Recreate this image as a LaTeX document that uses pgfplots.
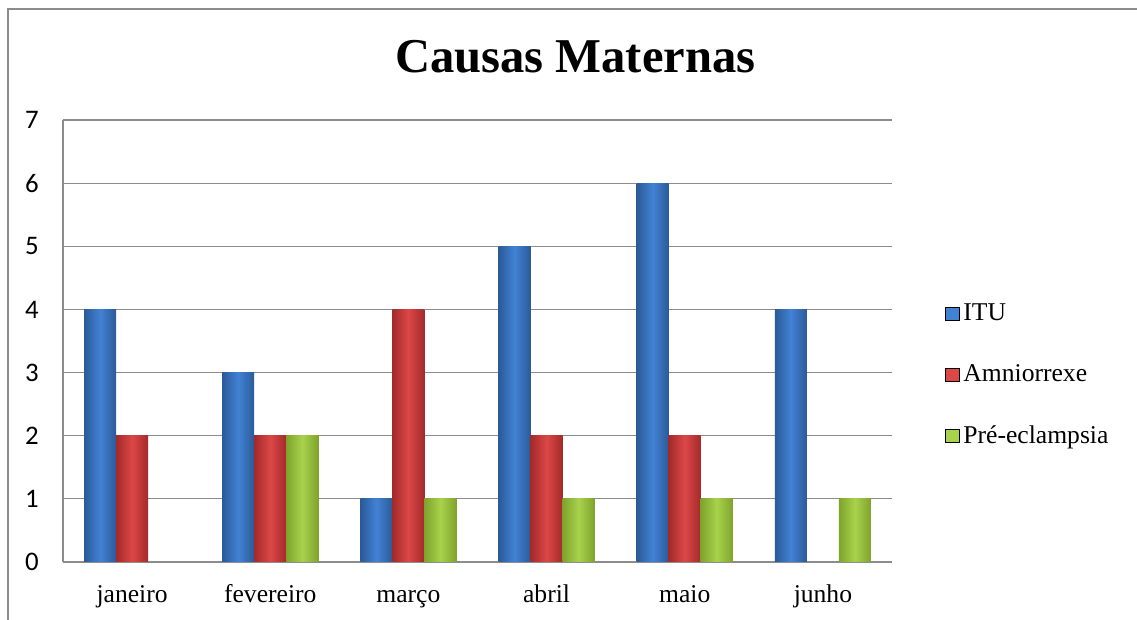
\documentclass[border=0pt]{standalone}
\usepackage{fontspec}
\setmainfont{Liberation Serif}
\newfontfamily\carlito{Carlito}
\usepackage{pgfplots}
\pgfplotsset{compat=1.18}
\definecolor{gridc}{HTML}{8C8C8C}
\definecolor{blueE}{HTML}{2B5A98}
\definecolor{blueM}{HTML}{4282D4}
\definecolor{redE}{HTML}{A32A2A}
\definecolor{redM}{HTML}{DC4747}
\definecolor{greenE}{HTML}{7FA32C}
\definecolor{greenM}{HTML}{A8D24C}
\pgfplotsset{
  bluebar/.style={draw=none, left color=blueE, right color=blueE, middle color=blueM, bar shift=-16pt},
  redbar/.style={draw=none, left color=redE, right color=redE, middle color=redM, bar shift=0pt},
  greenbar/.style={draw=none, left color=greenE, right color=greenE, middle color=greenM, bar shift=16pt},
}
\newcommand\B[2]{\addplot[bluebar] coordinates {(#1,#2)};}
\newcommand\R[2]{\addplot[redbar] coordinates {(#1,#2)};}
\newcommand\G[2]{\addplot[greenbar] coordinates {(#1,#2)};}
\begin{document}
\begin{tikzpicture}
\useasboundingbox (0,0) rectangle (568.5pt,310pt);
\draw[gridc, line width=1pt] (4pt,0) -- (4pt,305.5pt) -- (568.5pt,305.5pt);
\begin{axis}[
  at={(31.5pt,29pt)}, anchor=south west,
  scale only axis, width=414.5pt, height=221pt,
  ybar=0pt, bar width=16pt,
  xmin=-0.5, xmax=5.5, ymin=0, ymax=7,
  xtick={0,1,2,3,4,5}, xticklabels={janeiro,fevereiro,março,abril,maio,junho},
  ytick={0,1,2,3,4,5,6,7},
  major tick length=0pt,
  /pgf/number format/assume math mode=true,
  ymajorgrids, grid style={gridc, line width=0.6pt},
  axis x line*=bottom, axis y line*=left,
  axis line style={gridc, line width=0.6pt},
  yticklabel style={font=\carlito\fontsize{13.4}{15}\selectfont, anchor=east, inner sep=0pt, xshift=-12pt},
  xticklabel style={font=\fontsize{12.8}{15}\selectfont, anchor=base, inner sep=0pt, yshift=-20.5pt},
  title={Causas Maternas},
  title style={at={(0.618,1.1063)}, anchor=base, yshift=-5.5pt, font=\bfseries\fontsize{24.3}{29}\selectfont},
  legend style={draw=none, at={(1.064,0.423)}, anchor=west, font=\fontsize{12.8}{15}\selectfont,
    row sep=16.5pt, inner sep=0pt, legend cell align=left,
    /tikz/every even column/.append style={column sep=2.5pt}},
  legend image code/.code={\fill[#1] (0pt,-3.3pt) rectangle (6.6pt,3.3pt);},
]
\addlegendimage{fill=blueM}
\addlegendimage{fill=redM}
\addlegendimage{fill=greenM}
\legend{ITU,Amniorrexe,Pré-eclampsia}
% ITU
\B{0}{4} \B{1}{3} \B{2}{1} \B{3}{5} \B{4}{6} \B{5}{4}
% Amniorrexe
\R{0}{2} \R{1}{2} \R{2}{4} \R{3}{2} \R{4}{2}
% Pre-eclampsia
\G{1}{2} \G{2}{1} \G{3}{1} \G{4}{1} \G{5}{1}
\end{axis}
\end{tikzpicture}
\end{document}
